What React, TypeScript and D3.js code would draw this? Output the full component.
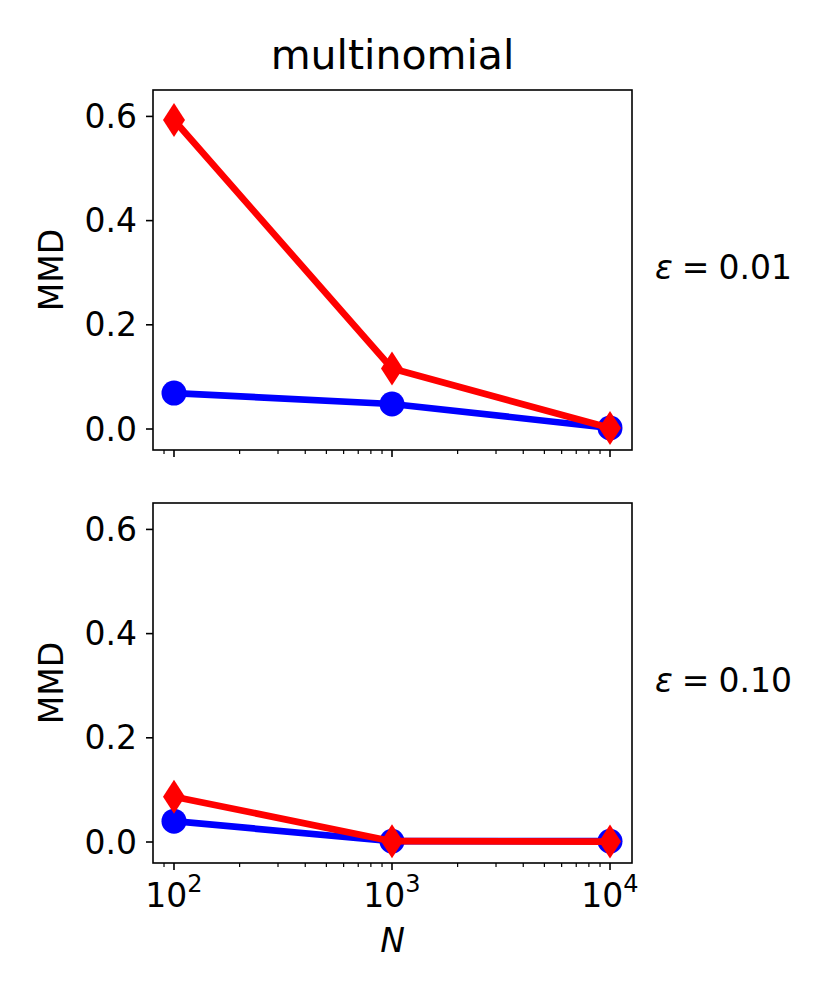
import { useRef, useEffect } from 'react';
import * as d3 from 'd3';

// sample sizes (log x axis)
const sampleSizes = [100, 1000, 10000];

// eps = 0.01 panel
const blueEps001 = [0.069, 0.048, 0.002];
const redEps001 = [0.593, 0.116, 0.002];

// eps = 0.10 panel
const blueEps010 = [0.040, 0.0015, 0.0015];
const redEps010 = [0.087, 0.0015, 0.0008];

const panelLabels = ['0.01', '0.10'];
const yTicks = [0.0, 0.2, 0.4, 0.6];
const xTicks = [100, 1000, 10000];

const WIDTH = 830;
const HEIGHT = 997;
const FONT = '"DejaVu Sans", sans-serif';

export default function App() {
  const svgRef = useRef<SVGSVGElement>(null);

  useEffect(() => {
    if (!svgRef.current) return;
    const svg = d3.select(svgRef.current);
    svg.selectAll('*').remove();

    const left = 153;
    const right = 632;
    const panelH = 360;
    const panelTops = [90, 503];

    const xScale = d3.scaleLog()
      .domain([Math.pow(10, 1.9037), Math.pow(10, 4.1009)])
      .range([left, right]);

    const panels = [
      { blue: blueEps001, red: redEps001, label: panelLabels[0] },
      { blue: blueEps010, red: redEps010, label: panelLabels[1] },
    ];

    // Title
    svg.append('text')
      .attr('x', (left + right) / 2)
      .attr('y', 69)
      .attr('text-anchor', 'middle')
      .style('font-family', FONT)
      .style('font-size', '41px')
      .text('multinomial');

    panels.forEach((p, i) => {
      const top = panelTops[i];
      const yScale = d3.scaleLinear()
        .domain([-0.0403, 0.6507])
        .range([top + panelH, top]);

      const g = svg.append('g');

      // Y ticks and labels
      yTicks.forEach(t => {
        const y = yScale(t);
        g.append('line')
          .attr('x1', left - 7).attr('x2', left)
          .attr('y1', y).attr('y2', y)
          .attr('stroke', '#000').attr('stroke-width', 1.6);
        g.append('text')
          .attr('x', left - 16)
          .attr('y', y)
          .attr('text-anchor', 'end')
          .attr('dominant-baseline', 'central')
          .style('font-family', FONT)
          .style('font-size', '33px')
          .text(t.toFixed(1));
      });

      // X minor ticks
      const minors: number[] = [];
      for (let k = 1; k <= 4; k++) {
        for (let m = 2; m <= 9; m++) {
          const v = m * Math.pow(10, k);
          const [d0, d1] = xScale.domain();
          if (v >= d0 && v <= d1) minors.push(v);
        }
      }
      minors.forEach(v => {
        g.append('line')
          .attr('x1', xScale(v)).attr('x2', xScale(v))
          .attr('y1', top + panelH).attr('y2', top + panelH + 4)
          .attr('stroke', '#000').attr('stroke-width', 1.2);
      });

      // X major ticks
      xTicks.forEach(v => {
        g.append('line')
          .attr('x1', xScale(v)).attr('x2', xScale(v))
          .attr('y1', top + panelH).attr('y2', top + panelH + 7)
          .attr('stroke', '#000').attr('stroke-width', 1.6);
        if (i === panels.length - 1) {
          const t = g.append('text')
            .attr('x', xScale(v))
            .attr('y', top + panelH + 44)
            .attr('text-anchor', 'middle')
            .style('font-family', FONT)
            .style('font-size', '33px');
          t.append('tspan').text('10');
          t.append('tspan')
            .attr('dy', -15)
            .style('font-size', '24px')
            .text(String(Math.round(Math.log10(v))));
        }
      });

      const line = d3.line<number>()
        .x((_, j) => xScale(sampleSizes[j]))
        .y(d => yScale(d));

      // Blue series (circles)
      g.append('path')
        .datum(p.blue)
        .attr('fill', 'none')
        .attr('stroke', '#0000ff')
        .attr('stroke-width', 6.7)
        .attr('stroke-linejoin', 'round')
        .attr('d', line);
      p.blue.forEach((d, j) => {
        g.append('circle')
          .attr('cx', xScale(sampleSizes[j]))
          .attr('cy', yScale(d))
          .attr('r', 12.5)
          .attr('fill', '#0000ff');
      });

      // Red series (thin diamonds)
      g.append('path')
        .datum(p.red)
        .attr('fill', 'none')
        .attr('stroke', '#ff0000')
        .attr('stroke-width', 6.7)
        .attr('stroke-linejoin', 'round')
        .attr('d', line);
      p.red.forEach((d, j) => {
        const cx = xScale(sampleSizes[j]);
        const cy = yScale(d);
        const hw = 11;
        const hh = 17;
        g.append('path')
          .attr('d', `M${cx},${cy - hh}L${cx + hw},${cy}L${cx},${cy + hh}L${cx - hw},${cy}Z`)
          .attr('fill', '#ff0000');
      });

      // Frame
      g.append('rect')
        .attr('x', left).attr('y', top)
        .attr('width', right - left).attr('height', panelH)
        .attr('fill', 'none')
        .attr('stroke', '#000')
        .attr('stroke-width', 1.6);

      // Y label
      const cy = top + panelH / 2;
      g.append('text')
        .attr('transform', `translate(63,${cy}) rotate(-90)`)
        .attr('text-anchor', 'middle')
        .style('font-family', FONT)
        .style('font-size', '33px')
        .text('MMD');

      // Right label
      const rt = g.append('text')
        .attr('x', 655)
        .attr('y', cy - 3)
        .attr('dominant-baseline', 'central')
        .style('font-family', FONT)
        .style('font-size', '33px');
      rt.append('tspan').style('font-style', 'italic').text('ε');
      rt.append('tspan').attr('dx', 9).text('=');
      rt.append('tspan').attr('dx', 9).text(p.label);
    });

    // X label
    svg.append('text')
      .attr('x', (left + right) / 2)
      .attr('y', 952)
      .attr('text-anchor', 'middle')
      .style('font-family', FONT)
      .style('font-size', '33px')
      .style('font-style', 'italic')
      .text('N');
  }, []);

  return (
    <svg
      ref={svgRef}
      width={WIDTH}
      height={HEIGHT}
      style={{ position: 'absolute', left: 0, top: 0, background: '#fff' }}
    />
  );
}
